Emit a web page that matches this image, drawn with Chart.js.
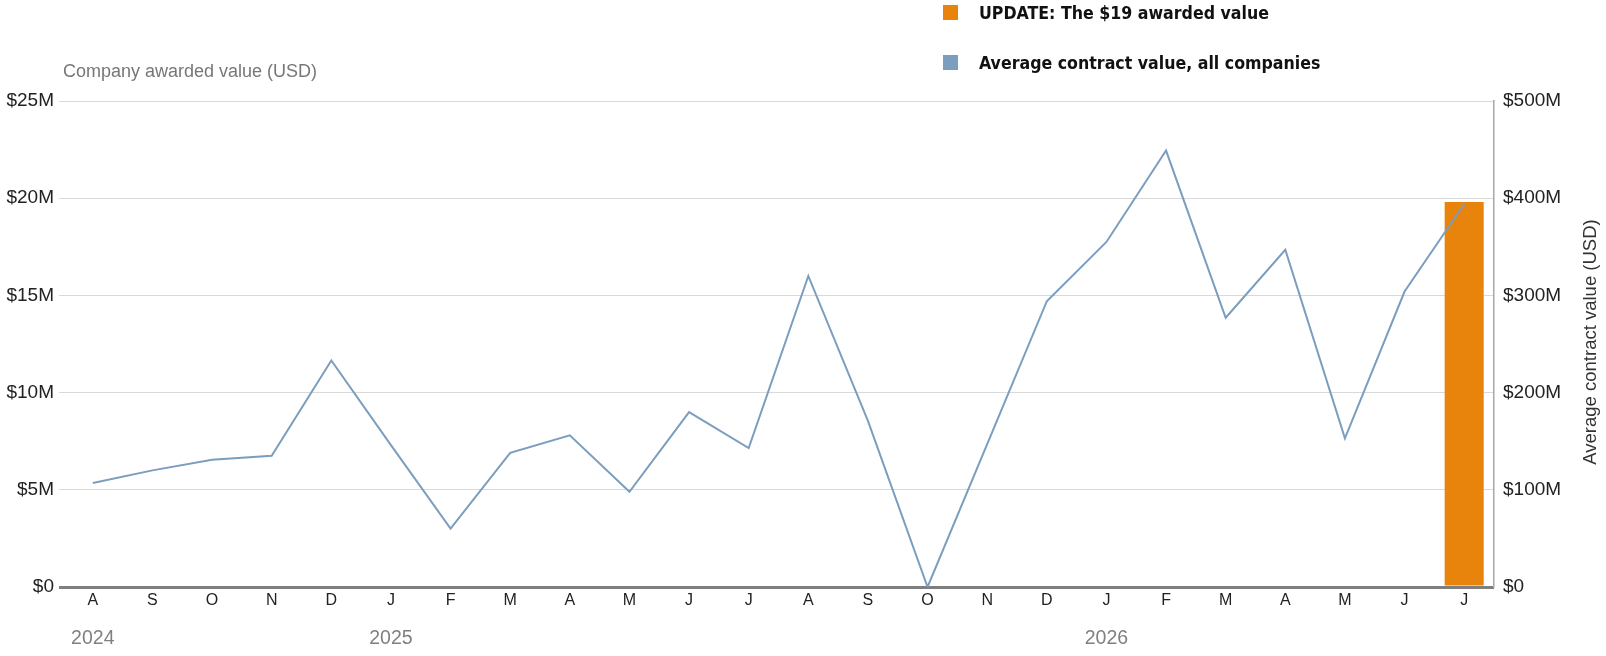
<!DOCTYPE html>
<html>
<head>
<meta charset="utf-8">
<script src="https://cdn.jsdelivr.net/npm/chart.js@4.4.1/dist/chart.umd.min.js"></script>
<style>
  html, body { margin: 0; padding: 0; background: #fff; }
  #wrap { position: relative; width: 1606px; height: 656px; overflow: hidden; }
  #chart { position: absolute; left: 0; top: 0; }
  .leg { position: absolute; left: 943px; height: 22px; line-height: 22px; white-space: nowrap;
         font-family: 'DejaVu Sans Condensed', 'DejaVu Sans', sans-serif; font-stretch: condensed;
         font-weight: bold; font-size: 17.6px; color: #111; }
  .leg .sw { position: absolute; left: 0; top: 3px; width: 15px; height: 15px; }
  .leg .tx { position: absolute; left: 36px; top: 0; }
  #ltitle { position: absolute; left: 63px; top: 60px; line-height: 22px; font-family: 'Liberation Sans', Arial, sans-serif;
            font-size: 18px; color: #777; white-space: nowrap; }
</style>
</head>
<body>
<div id="wrap">
  <canvas id="chart" width="1606" height="656"></canvas>
  <div id="ltitle"></div>
</div>
<script>
const months = ['A','S','O','N','D','J','F','M','A','M','J','J','A','S','O','N','D','J','F','M','A','M','J','J'];
const yearLabels = ['2024','','','','','2025','','','','','','','','','','','','2026','','','','','',''];
const awardedValue = [null,null,null,null,null,null,null,null,null,null,null,null,null,null,null,null,null,null,null,null,null,null,null,19.8];
const avgContractValue = [107,120,131,135,233,146,60,138,156,98,180,143,320,171,0,147,294,355,449,277,347,153,304,394];
const leftTicks = [0,5,10,15,20,25];
const rightTicks = [0,100,200,300,400,500];
const seriesNames = ['UPDATE: The $19 awarded value', 'Average contract value, all companies'];
const seriesColors = ['#e8830c', '#7b9dbe'];
const leftTitle = 'Company awarded value (USD)';
const rightTitle = 'Average contract value (USD)';

// HTML legend built from the series arrays
const legendTops = [2, 52];
seriesNames.forEach((name, i) => {
  const d = document.createElement('div');
  d.className = 'leg';
  d.style.top = legendTops[i] + 'px';
  const sw = document.createElement('span'); sw.className = 'sw'; sw.style.background = seriesColors[i];
  const tx = document.createElement('span'); tx.className = 'tx'; tx.textContent = name;
  d.appendChild(sw); d.appendChild(tx);
  document.getElementById('wrap').appendChild(d);
});
document.getElementById('ltitle').textContent = leftTitle;

const FONT = "'Liberation Sans', Arial, sans-serif";
const fmtM = v => v === 0 ? '$0' : '$' + v + 'M';

const rightTitlePlugin = {
  id: 'rightTitle',
  afterDraw(chart) {
    const s = chart.scales.y2;
    const c = chart.ctx;
    c.save();
    c.translate(s.right - 15, (s.top + s.bottom) / 2 - 2);
    c.rotate(-Math.PI / 2);
    c.textAlign = 'center';
    c.textBaseline = 'middle';
    c.font = '18.5px ' + FONT;
    c.fillStyle = '#333';
    c.fillText(rightTitle, 0, 0);
    c.restore();
  }
};

new Chart(document.getElementById('chart'), {
  data: {
    labels: months,
    datasets: [
      { type: 'line', label: seriesNames[1], data: avgContractValue, yAxisID: 'y2', xAxisID: 'x',
        borderColor: seriesColors[1], borderWidth: 2, pointRadius: 0, tension: 0, order: 0, spanGaps: true },
      { type: 'bar', label: seriesNames[0], data: awardedValue, yAxisID: 'y', xAxisID: 'x',
        backgroundColor: seriesColors[0], barPercentage: 0.655, categoryPercentage: 1, order: 1 }
    ]
  },
  options: {
    responsive: false,
    animation: false,
    devicePixelRatio: 1,
    layout: { padding: { top: 101, left: 0, right: 0, bottom: 0 } },
    plugins: { legend: { display: false }, tooltip: { enabled: false } },
    scales: {
      x: {
        type: 'category', position: 'bottom', offset: true, weight: 0,
        grid: { display: false, drawTicks: false }, border: { display: false },
        ticks: { color: '#222', font: { family: FONT, size: 16 }, padding: 4, maxRotation: 0, autoSkip: false },
        afterFit(s) { s.height = 30; }
      },
      x2: {
        type: 'category', position: 'bottom', offset: true, weight: 1,
        grid: { display: false, drawTicks: false }, border: { display: false },
        ticks: { color: '#808080', font: { family: FONT, size: 19.5 }, padding: 10, maxRotation: 0, autoSkip: false,
                 callback: (v, i) => yearLabels[i] },
        afterFit(s) { s.height = 39; }
      },
      y: {
        position: 'left', min: 0, max: 25,
        afterBuildTicks(s) { s.ticks = leftTicks.map(v => ({ value: v })); },
        ticks: { color: '#222', font: { family: FONT, size: 19 }, padding: 5, callback: v => fmtM(v) },
        grid: { color: c => c.tick && c.tick.value === 0 ? '#7f7f7f' : '#d9d9d9',
                lineWidth: c => c.tick && c.tick.value === 0 ? 3 : 1, tickLength: 4, drawTicks: true },
        border: { display: false },
        afterFit(s) { s.width = 63; }
      },
      y2: {
        position: 'right', min: 0, max: 500,
        afterBuildTicks(s) { s.ticks = rightTicks.map(v => ({ value: v })); },
        ticks: { color: '#222', font: { family: FONT, size: 19 }, padding: 9, callback: v => fmtM(v) },
        grid: { display: false, drawTicks: false },
        border: { display: true, color: '#a8a8a8', width: 1.5 },
        afterFit(s) { s.width = 112; }
      }
    }
  },
  plugins: [rightTitlePlugin]
});
</script>
</body>
</html>
